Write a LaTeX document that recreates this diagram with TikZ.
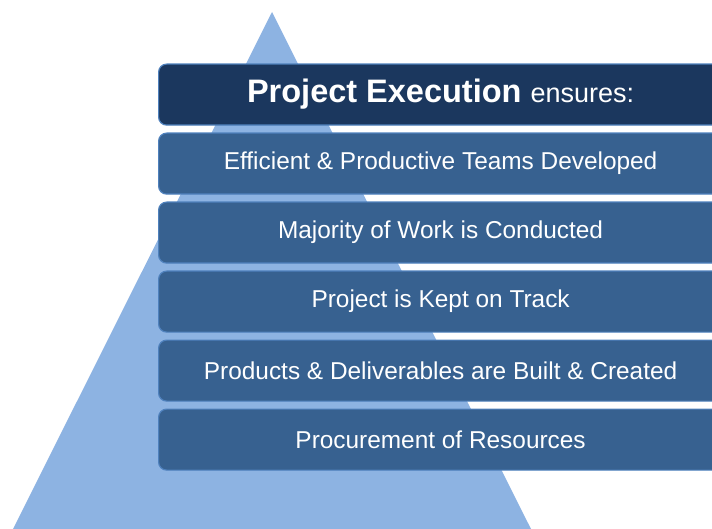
\documentclass[tikz,border=0pt]{standalone}
\usepackage{fontspec}
\setmainfont{Liberation Sans}
\definecolor{tri}{HTML}{8DB3E2}
\definecolor{navy}{HTML}{1B375E}
\definecolor{midblue}{HTML}{376190}
\definecolor{edge}{HTML}{4F81BD}
\tikzset{
  bar/.style={draw=edge, line width=1.2pt, rounded corners=8pt, minimum width=564pt, minimum height=61pt, anchor=north west, inner sep=0pt, text=white, font=\fontsize{24.4}{28}\selectfont},
  midbar/.style={bar, fill=midblue},
  topbar/.style={bar, fill=navy}
}
\begin{document}
\begin{tikzpicture}[x=1pt,y=-1pt]
\useasboundingbox (0,0) rectangle (712,529);
\clip (0,0) rectangle (712,529);
\fill[tri] (272,12) -- (531,529) -- (13,529) -- cycle;
\node[topbar] (t) at (158,63.5) {\fontsize{32.5}{38}\selectfont\bfseries Project Execution \mdseries\fontsize{27}{32}\selectfont ensures:};
\node[midbar] (b1) at (158,132.5) {Efficient \& Productive Teams Developed};
\node[midbar] (b2) at (158,201.5) {Majority of Work is Conducted};
\node[midbar] (b3) at (158,270.5) {Project is Kept on Track};
\node[midbar] (b4) at (158,339.5) {Products \& Deliverables are Built \& Created};
\node[midbar] (b5) at (158,408.5) {Procurement of Resources};
\end{tikzpicture}
\end{document}
